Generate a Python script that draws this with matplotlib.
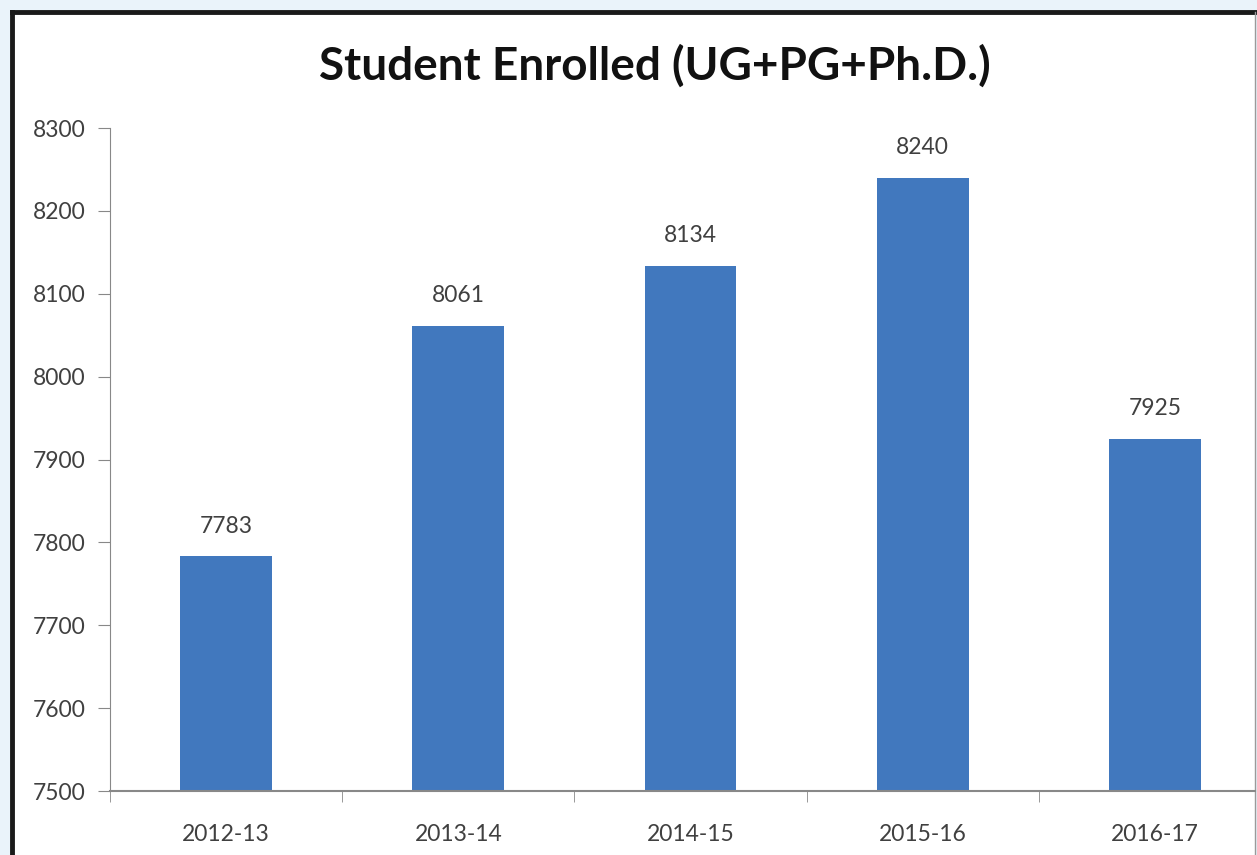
import numpy as np
import matplotlib
matplotlib.use("Agg")
import matplotlib.pyplot as plt
from matplotlib.patches import Rectangle

# data
years = ['2012-13', '2013-14', '2014-15', '2015-16', '2016-17']
students = [7783, 8061, 8134, 8240, 7925]
y_ticks = [7500, 7600, 7700, 7800, 7900, 8000, 8100, 8200, 8300]

plt.rcParams['font.family'] = ['Lato', 'DejaVu Sans']

W, H = 1257, 855
fig = plt.figure(figsize=(W / 100, H / 100), dpi=100)
fig.patch.set_facecolor('#EAF3FA')

# white chart panel with dark frame on left/top
panel = Rectangle((12 / W, 0), (1255 - 12) / W, (H - 12) / H, transform=fig.transFigure,
                  facecolor='white', edgecolor='none', zorder=0)
fig.patches.append(panel)
fig.add_artist(plt.Line2D([12 / W, 12 / W], [0, (H - 12) / H], color='#1a1a1a', lw=3.5,
                          transform=fig.transFigure))
fig.add_artist(plt.Line2D([12 / W, 1255 / W], [(H - 12) / H, (H - 12) / H], color='#1a1a1a', lw=3.5,
                          transform=fig.transFigure))
fig.add_artist(plt.Line2D([1255 / W, 1255 / W], [0, (H - 12) / H], color='#9a9a9a', lw=1,
                          transform=fig.transFigure))

left, right, top, bottom = 110, 1255, 128, 791
ax = fig.add_axes([left / W, 1 - bottom / H, (right - left) / W, (bottom - top) / H])
ax.set_facecolor('none')
ax.set_zorder(5)

x = np.arange(len(years))
bars = ax.bar(x, students, width=0.395, color='#4178BE', zorder=2)
for xi, v in zip(x, students):
    ax.text(xi, v + 24, str(v), ha='center', va='bottom', fontsize=16.5, color='#404040')

ax.set_xlim(-0.5, 4.5 - 16 / 232.7)
ax.set_ylim(7500, 8300)
ax.set_yticks(y_ticks)
ax.set_xticks(x)
ax.set_xticklabels(years)
ax.set_xticks(np.arange(-0.5, 4.0, 1.0), minor=True)
ax.tick_params(axis='x', which='major', length=0, pad=24, labelsize=16.5, labelcolor='#404040')
ax.tick_params(axis='x', which='minor', length=8, direction='out', color='#888888')
ax.tick_params(axis='y', length=8.5, direction='out', color='#888888', pad=9,
               labelsize=16.5, labelcolor='#404040')

for s in ['top', 'right']:
    ax.spines[s].set_visible(False)
ax.spines['left'].set_color('#888888')
ax.spines['bottom'].set_color('#888888')
ax.spines['bottom'].set_linewidth(1.5)

fig.text(655 / W, 1 - 66 / H, 'Student Enrolled (UG+PG+Ph.D.)', ha='center', va='center',
         fontsize=33, fontweight='bold', color='#111111')

fig.savefig('out.png', dpi=100, facecolor=fig.get_facecolor())
